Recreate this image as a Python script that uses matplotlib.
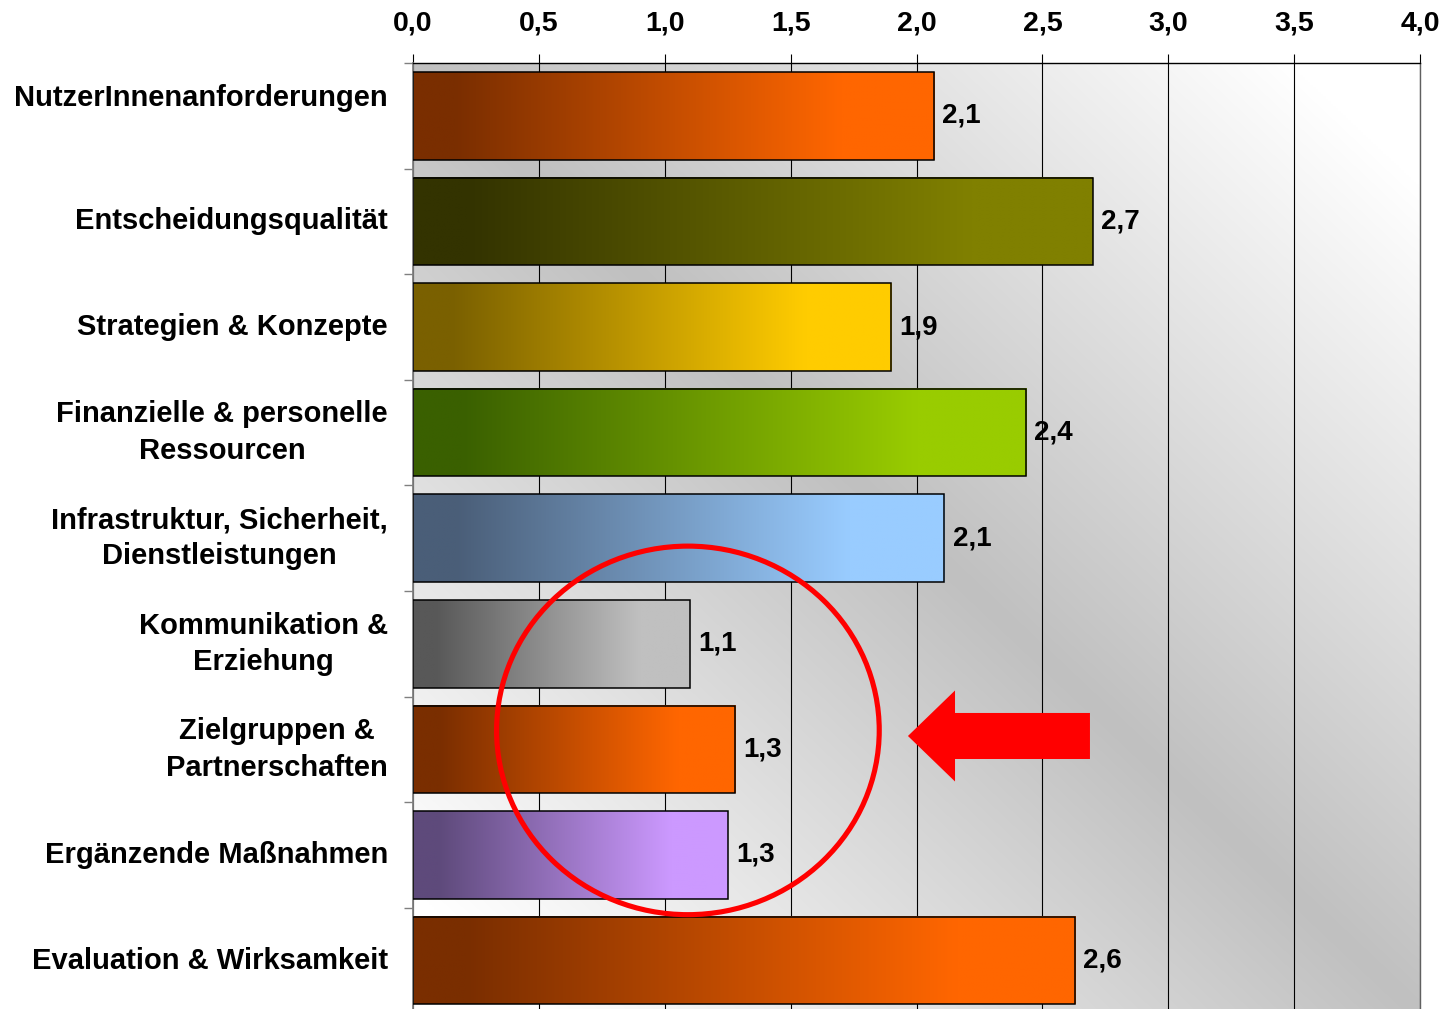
import numpy as np
import matplotlib
matplotlib.use("Agg")
import matplotlib.pyplot as plt
from matplotlib.colors import LinearSegmentedColormap
from matplotlib.patches import Ellipse, Polygon
from matplotlib.ticker import FuncFormatter
import matplotlib.transforms as mtransforms

plt.rcParams['font.family'] = ['Liberation Sans', 'DejaVu Sans']
plt.rcParams['font.weight'] = 'bold'

# ---------------- data ----------------
categories = [
    "NutzerInnenanforderungen",
    "Entscheidungsqualität",
    "Strategien & Konzepte",
    "Finanzielle & personelle\nRessourcen",
    "Infrastruktur, Sicherheit,\nDienstleistungen",
    "Kommunikation &\nErziehung",
    "Zielgruppen &\nPartnerschaften",
    "Ergänzende Maßnahmen",
    "Evaluation & Wirksamkeit",
]
values = [2.07, 2.70, 1.90, 2.435, 2.11, 1.10, 1.28, 1.25, 2.63]
value_labels = ["2,1", "2,7", "1,9", "2,4", "2,1", "1,1", "1,3", "1,3", "2,6"]
dark_colors = ["#7a2e00", "#333300", "#7a6000", "#3a6000", "#4a5e78",
               "#585858", "#7a2e00", "#5e4a7b", "#7a2e00"]
bright_colors = ["#ff6600", "#808000", "#ffcc00", "#99cc00", "#99ccff",
                 "#c0c0c0", "#ff6600", "#cc99ff", "#ff6600"]
xticks = [0.0, 0.5, 1.0, 1.5, 2.0, 2.5, 3.0, 3.5, 4.0]

# ---------------- figure ----------------
W, H, DPI = 1447, 1009, 100
fig = plt.figure(figsize=(W / DPI, H / DPI), dpi=DPI)
fig.patch.set_facecolor("white")

left_px, right_px, top_px = 413, 1420, 63
cat_px = 105.6
n = len(categories)
ax_h_px = cat_px * n
ax = fig.add_axes([left_px / W, (H - top_px - ax_h_px) / H,
                   (right_px - left_px) / W, ax_h_px / H])

# background diagonal gradient
res = 400
u = np.linspace(0, 1, res)[None, :]
v = np.linspace(0, 1, res)[:, None]
b = np.clip(np.abs(u - v) * 1.15, 0, 1)
c0 = 0xc0 / 255
bg = c0 + (1 - c0) * b
bg_rgb = np.dstack([bg, bg, bg])
ax.imshow(bg_rgb, extent=(0, 1, 0, 1), transform=ax.transAxes,
          aspect='auto', origin='upper', zorder=0, interpolation='bilinear')

ypos = np.arange(n)
bar_h = 0.83

# gridlines
for xv in xticks:
    ax.axvline(xv, color="black", lw=0.8, zorder=1)

grad = np.linspace(0, 1, 256)[None, :]
for i, (val, dc, bc) in enumerate(zip(values, dark_colors, bright_colors)):
    cmap = LinearSegmentedColormap.from_list(
        f"g{i}", [(0, dc), (0.08, dc), (0.82, bc), (1, bc)])
    ax.imshow(grad, cmap=cmap, extent=(0, val, i + bar_h / 2, i - bar_h / 2),
              aspect='auto', zorder=2, interpolation='bilinear')
bars = ax.barh(ypos, values, height=bar_h, facecolor='none',
               edgecolor='black', linewidth=1.1, zorder=3)

for i, (val, lab) in enumerate(zip(values, value_labels)):
    ax.annotate(lab, xy=(val, i), xytext=(6, 0), textcoords='offset points',
                ha='left', va='center', fontsize=20, fontweight='bold',
                zorder=4)

ax.set_xlim(0, 4.0)
ax.set_ylim(n - 0.5, -0.5)

# x axis at top
ax.xaxis.tick_top()
ax.set_xticks(xticks)
ax.xaxis.set_major_formatter(FuncFormatter(lambda x, p: f"{x:.1f}".replace(".", ",")))
ax.tick_params(axis='x', direction='out', length=6.5, width=0.8, color='black',
               labelsize=20.5, pad=12.5)
for lbl in ax.get_xticklabels():
    lbl.set_fontweight('bold')

# y axis: minor ticks at boundaries, labels as text
ax.set_yticks([])
ax.set_yticks(np.arange(-0.5, n, 1.0), minor=True)
ax.tick_params(axis='y', which='minor', direction='out', length=6.5,
               width=1.0, color='#808080', labelleft=False)

for i, cat in enumerate(categories):
    dy = 18 if i == 0 else 0
    off = mtransforms.offset_copy(ax.transData, fig=fig, x=-25, y=dy,
                                  units='dots')
    ax.text(0, i, cat, transform=off, ha='right', va='center',
            multialignment='center', fontsize=21, fontweight='bold',
            linespacing=1.38)

ax.spines['bottom'].set_visible(False)
ax.spines['top'].set_color('black')
ax.spines['top'].set_linewidth(1.0)
ax.spines['left'].set_color('#808080')
ax.spines['left'].set_linewidth(1.3)
ax.spines['right'].set_color('#606060')
ax.spines['right'].set_linewidth(1.0)

# annotations: red circle and arrow
circ = Ellipse((1.092, 5.82), width=1.52, height=3.49, fill=False,
               edgecolor='red', linewidth=3.7, zorder=5, clip_on=False)
ax.add_patch(circ)

tip_x, head_x, tail_x = 1.966, 2.153, 2.689
cy, head_hh, shaft_hh = 5.873, 0.431, 0.218
arrow_pts = [(tip_x, cy), (head_x, cy - head_hh), (head_x, cy - shaft_hh),
             (tail_x, cy - shaft_hh), (tail_x, cy + shaft_hh),
             (head_x, cy + shaft_hh), (head_x, cy + head_hh)]
ax.add_patch(Polygon(arrow_pts, closed=True, facecolor='#ff0000',
                     edgecolor='none', zorder=5))

fig.savefig("out.png", dpi=DPI)
